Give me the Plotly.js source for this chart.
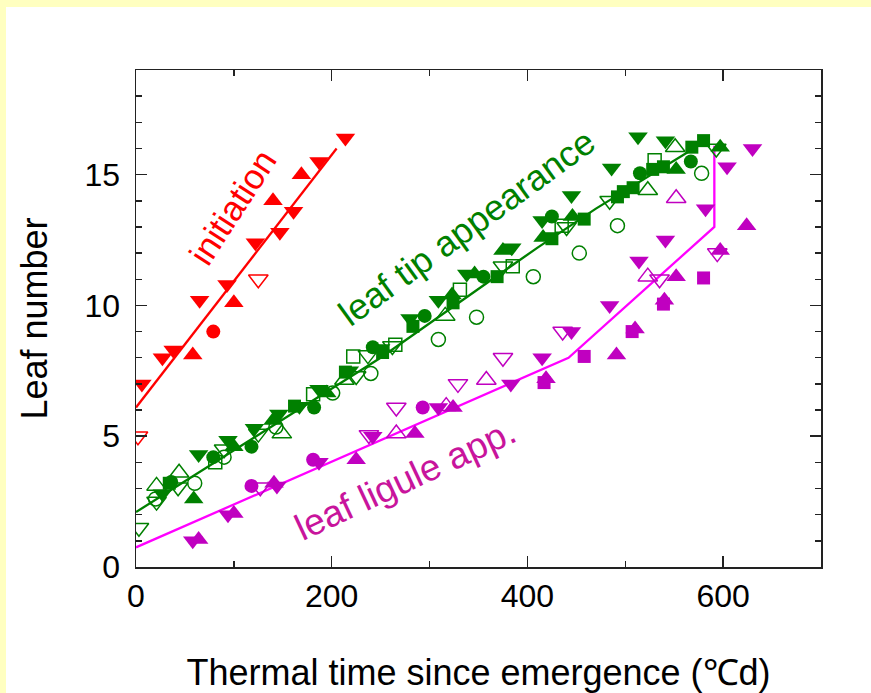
<!DOCTYPE html>
<html>
<head>
<meta charset="utf-8">
<script src="https://cdn.plot.ly/plotly-3.0.1.min.js"></script>
<style>
  html, body { margin: 0; padding: 0; width: 871px; height: 693px; background: #ffffc0; overflow: hidden; }
  #chart { position: absolute; left: 6px; top: 7px; width: 865px; height: 686px; background: #ffffff; }
</style>
</head>
<body>
<div id="chart"></div>
<script>
// Leaf initiation (red)
const initDownX = [6, 27, 38, 65, 93, 122, 147, 161, 187, 214];
const initDownY = [7.0, 8.0, 8.3, 10.2, 10.8, 12.4, 12.8, 13.6, 15.5, 16.4];
const initUpX = [58, 100, 140, 169];
const initUpY = [8.1, 10.1, 14.0, 15.0];
const initCircleX = [79];
const initCircleY = [9.0];
const initOpenDownX = [2, 125];
const initOpenDownY = [5.0, 11.0];
const initLineX = [0, 205];
const initLineY = [6.1, 16.0];

// Leaf tip appearance (green)
const tipDownX = [27, 64, 94, 121, 146, 167, 187, 218, 250, 280, 309, 338, 384, 415, 445, 486, 513, 541];
const tipDownY = [2.8, 4.3, 4.85, 5.3, 5.85, 6.15, 6.8, 7.5, 8.35, 9.5, 10.2, 11.2, 12.2, 13.25, 14.2, 15.25, 16.45, 16.3];
const tipUpX = [59, 100, 140, 195, 323, 346, 375, 416, 446, 552, 597];
const tipUpY = [2.6, 4.6, 5.6, 6.65, 10.4, 11.2, 12.1, 12.6, 13.4, 15.2, 16.05];
const tipCircleX = [36, 79, 118, 182, 242, 295, 355, 425, 515, 567];
const tipCircleY = [3.25, 4.2, 4.6, 6.1, 8.4, 9.6, 11.1, 13.4, 15.05, 15.5];
const tipSquareX = [34, 162, 214, 252, 283, 324, 369, 425, 458, 492, 498, 508, 528, 539, 568, 580];
const tipSquareY = [3.2, 6.15, 7.45, 8.2, 9.2, 10.1, 11.1, 12.55, 13.3, 14.15, 14.35, 14.5, 15.2, 15.3, 16.05, 16.3];
const tipOpenCircleX = [20, 60, 90, 143, 201, 240, 309, 348, 406, 453, 492, 578];
const tipOpenCircleY = [2.6, 3.2, 4.2, 5.35, 6.65, 7.4, 8.7, 9.55, 11.1, 12.0, 13.05, 15.05];
const tipOpenSquareX = [81, 181, 222, 265, 331, 385, 435, 530];
const tipOpenSquareY = [4.0, 6.6, 8.05, 8.5, 10.6, 11.5, 13.05, 15.55];
const tipOpenUpX = [21, 44, 149, 213, 316, 523, 551];
const tipOpenUpY = [3.1, 3.6, 5.1, 7.15, 9.6, 14.4, 16.05];
const tipOpenDownX = [3, 21, 43, 90, 125, 225, 237, 262, 375, 440, 484, 593];
const tipOpenDownY = [1.5, 2.5, 3.05, 4.5, 5.1, 7.3, 8.1, 8.45, 11.5, 13.0, 14.0, 16.0];
const tipLineX = [0, 250, 364, 410, 470, 570];
const tipLineY = [2.1, 8.0, 11.0, 12.2, 13.7, 16.0];

// Leaf ligule appearance (magenta)
const ligDownX = [58, 94, 144, 187, 242, 309, 383, 415, 445, 484, 514, 541, 582, 604, 630];
const ligDownY = [1.0, 2.0, 3.1, 4.0, 5.0, 6.1, 7.0, 8.0, 9.0, 10.0, 11.7, 12.5, 13.7, 15.3, 16.0];
const ligUpX = [64, 100, 141, 225, 285, 324, 419, 491, 510, 540, 552, 597, 624];
const ligUpY = [1.05, 2.05, 3.2, 4.1, 5.1, 6.1, 7.2, 8.1, 9.1, 10.2, 11.1, 12.1, 13.05];
const ligCircleX = [118, 181, 293];
const ligCircleY = [3.1, 4.1, 6.1];
const ligSquareX = [417, 458, 507, 539, 580];
const ligSquareY = [7.05, 8.05, 9.0, 10.05, 11.05];
const ligOpenUpX = [266, 317, 358, 523, 552];
const ligOpenUpY = [5.1, 6.15, 7.15, 11.1, 14.1];
const ligOpenDownX = [127, 238, 266, 329, 375, 436, 535, 594];
const ligOpenDownY = [3.05, 5.05, 6.1, 7.0, 8.0, 9.0, 11.0, 12.0];
const ligLineX = [0, 442, 591, 591];
const ligLineY = [0.75, 8.0, 13.0, 16.1];

// Axis ticks
const xTickVals = [0, 200, 400, 600];
const xTickText = ['0', '200', '400', '600'];
const yTickVals = [0, 5, 10, 15];
const yTickText = ['0', '5', '10', '15'];

const RED = '#ff0000';
const GREEN = '#008000';
const MAG_MARK = '#c000c0';
const MAG_LINE = '#ff00ff';
const MAG_TEXT = '#c8149c';
const FONT = 'Liberation Sans, Arial, Helvetica, sans-serif';

function pts(x, y, symbol, color, size) {
  const open = symbol.indexOf('open') >= 0;
  return {
    type: 'scatter', mode: 'markers', x: x, y: y, hoverinfo: 'x+y',
    marker: {
      symbol: symbol, size: size, color: color,
      line: { color: color, width: open ? 1.5 : 0 }
    }
  };
}
function line(x, y, color) {
  return { type: 'scatter', mode: 'lines', x: x, y: y, line: { color: color, width: 2.3 }, hoverinfo: 'skip' };
}

const TRI = 17, CIR = 14, SQ = 13;

const traces = [
  line(ligLineX, ligLineY, MAG_LINE),
  pts(ligDownX, ligDownY, 'triangle-down', MAG_MARK, TRI),
  pts(ligUpX, ligUpY, 'triangle-up', MAG_MARK, TRI),
  pts(ligCircleX, ligCircleY, 'circle', MAG_MARK, CIR),
  pts(ligSquareX, ligSquareY, 'square', MAG_MARK, SQ),
  pts(ligOpenUpX, ligOpenUpY, 'triangle-up-open', MAG_MARK, TRI),
  pts(ligOpenDownX, ligOpenDownY, 'triangle-down-open', MAG_MARK, TRI),

  pts(tipOpenCircleX, tipOpenCircleY, 'circle-open', GREEN, CIR),
  pts(tipOpenSquareX, tipOpenSquareY, 'square-open', GREEN, SQ),
  pts(tipOpenUpX, tipOpenUpY, 'triangle-up-open', GREEN, TRI),
  pts(tipOpenDownX, tipOpenDownY, 'triangle-down-open', GREEN, TRI),
  pts(tipDownX, tipDownY, 'triangle-down', GREEN, TRI),
  pts(tipUpX, tipUpY, 'triangle-up', GREEN, TRI),
  pts(tipCircleX, tipCircleY, 'circle', GREEN, CIR),
  pts(tipSquareX, tipSquareY, 'square', GREEN, SQ),
  line(tipLineX, tipLineY, GREEN),

  pts(initDownX, initDownY, 'triangle-down', RED, TRI),
  pts(initUpX, initUpY, 'triangle-up', RED, TRI),
  pts(initCircleX, initCircleY, 'circle', RED, CIR),
  pts(initOpenDownX, initOpenDownY, 'triangle-down-open', RED, TRI),
  line(initLineX, initLineY, RED)
];

const axisCommon = {
  showgrid: false, zeroline: false, showline: true, linecolor: '#222', linewidth: 1.5,
  mirror: 'ticks', ticks: 'inside', ticklen: 11, tickwidth: 1.5, tickcolor: '#222',
  tickfont: { family: FONT, size: 32, color: '#000' }
};

const layout = {
  width: 865, height: 686,
  margin: { l: 130, r: 50, t: 63, b: 126 },
  paper_bgcolor: '#ffffff', plot_bgcolor: '#ffffff',
  showlegend: false,
  font: { family: FONT, color: '#000' },
  xaxis: Object.assign({}, axisCommon, {
    range: [0, 700], tickvals: xTickVals, ticktext: xTickText,
    minor: { dtick: 100, tick0: 0, ticks: 'inside', ticklen: 6, tickwidth: 1.5, tickcolor: '#222' },
    title: { text: 'Thermal time since emergence (℃d)', font: { family: FONT, size: 36, color: '#000' }, standoff: 48 }
  }),
  yaxis: Object.assign({}, axisCommon, {
    range: [0, 19], tickvals: yTickVals, ticktext: yTickText, ticklabelstandoff: 8,
    minor: { dtick: 1, tick0: 0, ticks: 'inside', ticklen: 6, tickwidth: 1.5, tickcolor: '#222' },
    title: { text: 'Leaf number', font: { family: FONT, size: 36, color: '#000' }, standoff: 26 }
  }),
  annotations: [
    { x: 98, y: 13.76, xref: 'x', yref: 'y', text: 'initiation', showarrow: false, textangle: -57,
      font: { family: FONT, size: 35, color: RED }, xanchor: 'center', yanchor: 'middle' },
    { x: 338, y: 12.96, xref: 'x', yref: 'y', text: 'leaf tip appearance', showarrow: false, textangle: -36,
      font: { family: FONT, size: 36, color: GREEN }, xanchor: 'center', yanchor: 'middle' },
    { x: 275, y: 3.35, xref: 'x', yref: 'y', text: 'leaf ligule app.', showarrow: false, textangle: -25,
      font: { family: FONT, size: 37, color: MAG_TEXT }, xanchor: 'center', yanchor: 'middle' }
  ]
};

Plotly.newPlot('chart', traces, layout, { displayModeBar: false, staticPlot: true });
</script>
</body>
</html>
